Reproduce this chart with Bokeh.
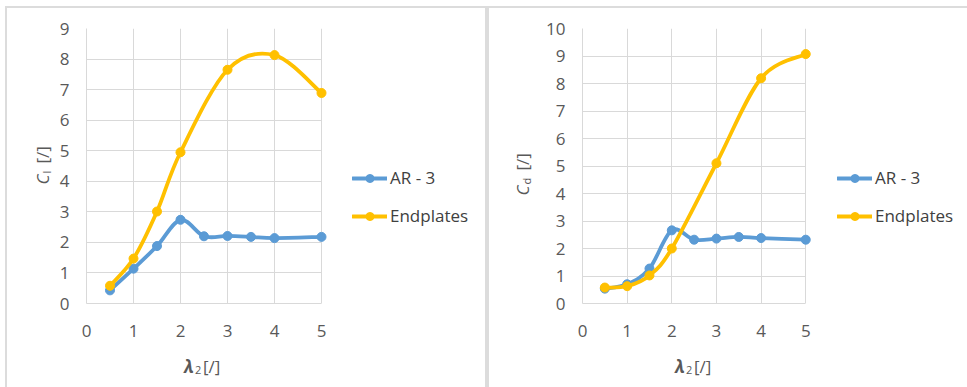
import numpy as np
from bokeh.plotting import figure
from bokeh.layouts import row, column
from bokeh.models import (ColumnDataSource, Legend, LegendItem, Label,
                          BoxAnnotation, Range1d, FixedTicker)
from bokeh.embed import file_html
from bokeh.resources import INLINE

# ---- data ----
lam_ar = [0.5, 1.0, 1.5, 2.0, 2.5, 3.0, 3.5, 4.0, 5.0]
cl_ar = [0.43, 1.14, 1.88, 2.74, 2.20, 2.21, 2.18, 2.14, 2.18]
cd_ar = [0.54, 0.70, 1.27, 2.66, 2.32, 2.36, 2.42, 2.38, 2.32]

lam_end = [0.5, 1.0, 1.5, 2.0, 3.0, 4.0, 5.0]
cl_end = [0.58, 1.47, 3.01, 4.95, 7.65, 8.13, 6.89]
cd_end = [0.58, 0.63, 1.02, 2.00, 5.10, 8.19, 9.07]

x_ticks = [0, 1, 2, 3, 4, 5]
cl_ticks = list(range(0, 10))
cd_ticks = list(range(0, 11))

series_names = ["AR - 3", "Endplates"]
colors = ["#5B9BD5", "#FFC000"]

FONT = "Open Sans"
GRID = "#d9d9d9"
TICK_COLOR = "#595959"
H = 379          # content height inside the panel border
XL_H = 40        # height of the strip holding the x-axis title
TOP, BOTTOM = 20, 84
MAIN_H = H - XL_H
MAIN_BOTTOM = BOTTOM - XL_H


def smooth_segments(x, y):
    """Excel-like smoothed line: cubic Bezier control points from neighbours."""
    x = np.asarray(x, float)
    y = np.asarray(y, float)
    n = len(x)
    xp = np.concatenate([[x[0]], x, [x[-1]]])
    yp = np.concatenate([[y[0]], y, [y[-1]]])
    d = dict(x0=[], y0=[], x1=[], y1=[], cx0=[], cy0=[], cx1=[], cy1=[])
    for i in range(n - 1):
        j = i + 1
        d["x0"].append(xp[j]); d["y0"].append(yp[j])
        d["x1"].append(xp[j + 1]); d["y1"].append(yp[j + 1])
        d["cx0"].append(xp[j] + (xp[j + 1] - xp[j - 1]) / 6)
        d["cy0"].append(yp[j] + (yp[j + 1] - yp[j - 1]) / 6)
        d["cx1"].append(xp[j + 1] - (xp[j + 2] - xp[j]) / 6)
        d["cy1"].append(yp[j + 1] - (yp[j + 2] - yp[j]) / 6)
    return ColumnDataSource(d)


def lab(text, x, y, size="17px", style="normal", angle=0.0):
    return Label(x=x, y=y, x_units="screen", y_units="screen", text=text,
                 angle=angle, text_font=FONT, text_font_style=style,
                 text_font_size=size, text_color=TICK_COLOR,
                 text_baseline="alphabetic", text_align="left")


def blank_fig(width, height, left, right, top, bottom):
    f = figure(width=width, height=height, x_range=Range1d(0, 1),
               y_range=Range1d(0, 1), output_backend="svg",
               toolbar_location=None, x_axis_location=None,
               y_axis_location=None, min_border_left=left,
               min_border_right=right, min_border_top=top,
               min_border_bottom=bottom)
    f.outline_line_color = None
    f.xgrid.visible = False
    f.ygrid.visible = False
    return f


def ylabel_fig(width, bx, y0, sub, y_sub, y_br):
    f = blank_fig(width, H, 0, 0, TOP, BOTTOM)
    a = np.pi / 2
    f.add_layout(lab("C", bx, y0, style="italic", angle=a))
    f.add_layout(lab(sub, bx + 4, y_sub, size="11px", angle=a))
    f.add_layout(lab("[/]", bx, y_br, angle=a))
    return f


def xlabel_fig(width, left, right, cx):
    f = blank_fig(width, XL_H, left, right, 0, 10)
    f.add_layout(lab("λ", cx - 20, 11, style="bold italic"))
    f.add_layout(lab("2", cx - 9, 8, size="11px"))
    f.add_layout(lab("[/]", cx - 1, 11))
    return f


def main_fig(width, left, frame_w, right, ymax, yticks, ys_ar, ys_end,
             leg_x):
    full_w = width - left - right
    x_end = 5 * full_w / frame_w
    p = figure(width=width, height=MAIN_H,
               x_range=Range1d(0, x_end), y_range=Range1d(0, ymax),
               output_backend="svg", toolbar_location=None,
               min_border_left=left, min_border_right=right,
               min_border_top=TOP, min_border_bottom=MAIN_BOTTOM)
    p.outline_line_color = None

    for ax in (p.xaxis[0], p.yaxis[0]):
        ax.axis_line_color = GRID
        ax.major_tick_line_color = None
        ax.minor_tick_line_color = None
        ax.major_tick_out = 0
        ax.major_tick_in = 0
        ax.minor_tick_out = 0
        ax.minor_tick_in = 0
        ax.major_label_text_font = FONT
        ax.major_label_text_font_size = "17px"
        ax.major_label_text_color = TICK_COLOR
    p.xaxis[0].bounds = (0, 5)
    p.xaxis[0].major_label_standoff = 21
    p.yaxis[0].major_label_standoff = 17
    p.xaxis[0].ticker = FixedTicker(ticks=x_ticks)
    p.yaxis[0].ticker = FixedTicker(ticks=yticks)
    p.xgrid.grid_line_color = GRID
    p.ygrid.grid_line_color = GRID
    p.xgrid.ticker = FixedTicker(ticks=x_ticks)
    p.ygrid.ticker = FixedTicker(ticks=yticks)
    yg = p.ygrid[0]
    if "cross_bounds" in yg.properties():
        yg.cross_bounds = (0, 5)
    else:
        p.add_layout(BoxAnnotation(left=5.02, fill_color="white",
                                   fill_alpha=1, line_color=None,
                                   level="underlay"))

    items = []
    for name, col, xs, ys in ((series_names[0], colors[0], lam_ar, ys_ar),
                              (series_names[1], colors[1], lam_end, ys_end)):
        src = smooth_segments(xs, ys)
        b = p.bezier("x0", "y0", "x1", "y1", "cx0", "cy0", "cx1", "cy1",
                     source=src, line_color=col, line_width=3.8,
                     line_cap="round", line_join="round")
        s = p.scatter(xs, ys, size=9, marker="circle", fill_color=col,
                      line_color=col)
        items.append(LegendItem(label=name, renderers=[b, s]))

    legend = Legend(items=items, location=(leg_x, 76),
                    orientation="vertical",
                    glyph_width=35, glyph_height=20, label_height=20,
                    spacing=15, padding=0, margin=0, label_standoff=3,
                    border_line_color=None, background_fill_alpha=0,
                    label_text_font=FONT, label_text_font_size="17px",
                    label_text_color="#404040")
    p.add_layout(legend, "center")
    return p


BORDER = "2px solid #dcdcdc"

# panel 1: content spans page x 7..485
yl1 = ylabel_fig(49, 35, 119, "l", 130, 140)
p1 = main_fig(429, 30, 235, 4, 9, cl_ticks, cl_ar, cl_end, 266)
xl1 = xlabel_fig(429, 30, 4, 235 / 2)
panel1 = row(yl1, column(p1, xl1, spacing=0), spacing=0,
             styles={"margin-top": "6px", "margin-left": "5px",
                     "border-top": BORDER, "border-left": BORDER,
                     "border-right": BORDER})

# panel 2: content spans page x 489..967
yl2 = ylabel_fig(54, 33, 108, "d", 119, 133)
p2 = main_fig(424, 36, 225, 4, 10, cd_ticks, cd_ar, cd_end, 255)
xl2 = xlabel_fig(424, 36, 4, 225 / 2)
panel2 = row(yl2, column(p2, xl2, spacing=0), spacing=0,
             styles={"margin-top": "6px", "border-top": BORDER,
                     "border-left": BORDER})

layout = row(panel1, panel2, spacing=0)
open("out.html", "w").write(file_html(layout, INLINE))
